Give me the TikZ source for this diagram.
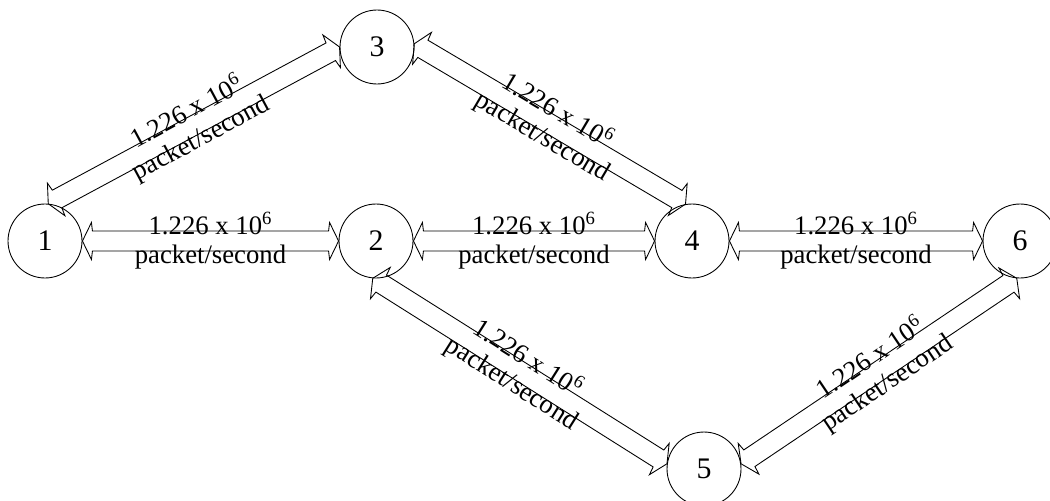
\documentclass[tikz,border=0pt]{standalone}
\usepackage{fontspec}
\setmainfont{Liberation Serif}
\usetikzlibrary{calc}
\tikzset{
  station/.style={circle, draw, line width=0.5pt, minimum size=1.48cm, inner sep=0pt,
    font=\fontsize{17}{20}\selectfont},
  pipe/.style={draw, line width=0.5pt, line join=miter},
  rate/.style={font=\fontsize{15.2}{18}\selectfont, sloped, anchor=center, inner sep=0pt},
}
% hollow double-headed block arrow between two points, with its two labels
\newcommand\pipearrow[2]{%
  \draw[pipe] (#1)
    -- ($(#1)!0.18cm!(#2)!0.37cm!90:(#2)$)
    -- ($(#1)!0.20cm!(#2)!0.20cm!90:(#2)$)
    -- ($(#2)!0.20cm!(#1)!0.20cm!-90:(#1)$)
    -- ($(#2)!0.18cm!(#1)!0.37cm!-90:(#1)$)
    -- (#2)
    -- ($(#2)!0.18cm!(#1)!0.37cm!90:(#1)$)
    -- ($(#2)!0.20cm!(#1)!0.20cm!90:(#1)$)
    -- ($(#1)!0.20cm!(#2)!0.20cm!-90:(#2)$)
    -- ($(#1)!0.18cm!(#2)!0.37cm!-90:(#2)$)
    -- cycle;
  \path ($(#1)!0.35cm!90:(#2)$) -- ($(#2)!0.35cm!-90:(#1)$)
    node[rate, pos=0.5] {1.226 x 10\textsuperscript{6}};
  \path ($(#1)!0.32cm!-90:(#2)$) -- ($(#2)!0.32cm!90:(#1)$)
    node[rate, pos=0.5] {packet/second};
}
\begin{document}
\begin{tikzpicture}[x=0.02cm, y=-0.02cm]
  \useasboundingbox (0,0) rectangle (1050,500);
  \node[station] (n1) at (45,241) {1};
  \node[station] (n2) at (376,241) {2};
  \node[station] (n3) at (377,47) {3};
  \node[station] (n4) at (692,241) {4};
  \node[station] (n5) at (704,469) {5};
  \node[station] (n6) at (1020,241) {6};
  \pipearrow{n1.85}{n3.180}
  \pipearrow{n3.5}{n4.100}
  \pipearrow{n1.east}{n2.west}
  \pipearrow{n2.east}{n4.west}
  \pipearrow{n4.east}{n6.west}
  \pipearrow{n2.-95}{n5.172}
  \pipearrow{n5.8}{n6.-95}
\end{tikzpicture}
\end{document}
